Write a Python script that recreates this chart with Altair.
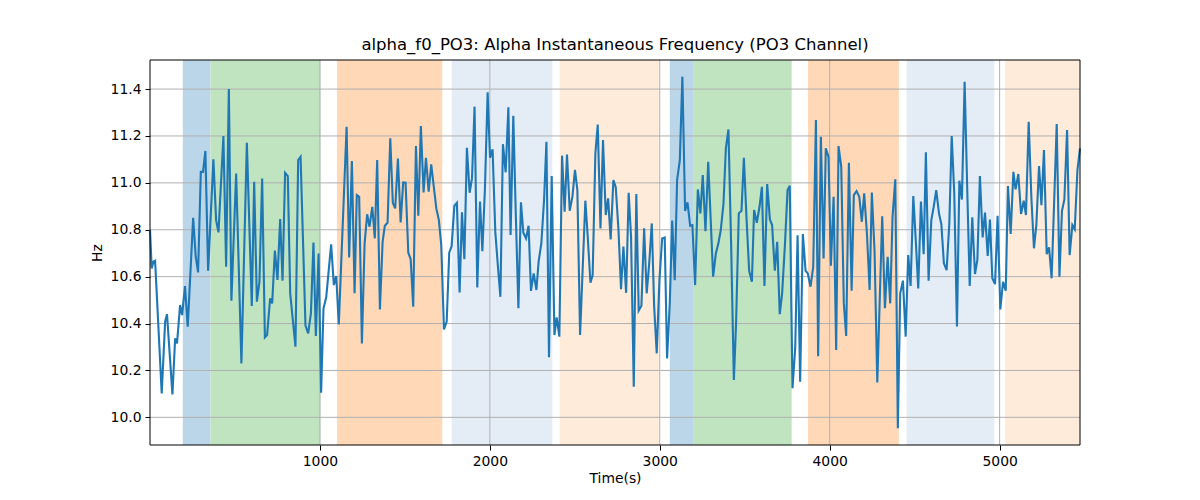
import altair as alt
import pandas as pd

times = [0, 10, 20, 30, 69, 89, 100, 132, 148, 159, 177, 189, 206, 222, 254, 269, 283, 299, 312, 326,
         342, 373, 389, 403, 432, 448, 464, 479, 507, 538, 570, 599, 613, 629, 644, 660, 676, 689, 707, 719,
         735, 750, 766, 780, 795, 811, 825, 856, 872, 886, 915, 931, 947, 962, 976, 992, 1007, 1021, 1037, 1066,
         1082, 1096, 1111, 1157, 1172, 1188, 1204, 1217, 1231, 1247, 1263, 1278, 1292, 1308, 1323, 1337, 1353, 1369, 1382, 1398,
         1414, 1429, 1443, 1459, 1475, 1490, 1504, 1520, 1534, 1549, 1565, 1579, 1594, 1610, 1624, 1640, 1655, 1669, 1685, 1700,
         1714, 1730, 1746, 1761, 1775, 1791, 1806, 1822, 1836, 1850, 1865, 1881, 1895, 1910, 1926, 1942, 1956, 1971, 1987, 2001,
         2016, 2032, 2046, 2062, 2077, 2093, 2109, 2122, 2138, 2152, 2168, 2183, 2197, 2213, 2228, 2242, 2258, 2274, 2287, 2303,
         2319, 2333, 2348, 2364, 2380, 2393, 2409, 2425, 2440, 2454, 2470, 2486, 2501, 2515, 2531, 2562, 2576, 2592, 2605, 2621,
         2635, 2651, 2666, 2682, 2696, 2711, 2727, 2741, 2757, 2772, 2786, 2802, 2817, 2831, 2847, 2862, 2876, 2892, 2908, 2923,
         2937, 2953, 2967, 2982, 2998, 3014, 3029, 3043, 3059, 3073, 3088, 3102, 3118, 3133, 3149, 3163, 3179, 3192, 3208, 3224,
         3239, 3253, 3269, 3285, 3314, 3330, 3345, 3359, 3375, 3389, 3404, 3420, 3436, 3449, 3465, 3481, 3495, 3510, 3526, 3542,
         3555, 3571, 3587, 3601, 3616, 3632, 3648, 3661, 3677, 3691, 3706, 3720, 3736, 3752, 3765, 3781, 3797, 3811, 3826, 3842,
         3858, 3871, 3887, 3903, 3919, 3932, 3948, 3964, 3977, 3993, 4007, 4023, 4038, 4052, 4068, 4083, 4097, 4113, 4129, 4142,
         4158, 4174, 4189, 4203, 4219, 4235, 4248, 4264, 4280, 4295, 4309, 4325, 4341, 4356, 4370, 4386, 4401, 4415, 4431, 4447,
         4462, 4476, 4492, 4507, 4521, 4537, 4553, 4566, 4582, 4598, 4612, 4627, 4643, 4657, 4672, 4688, 4704, 4718, 4733, 4749,
         4763, 4778, 4794, 4810, 4824, 4839, 4855, 4869, 4884, 4900, 4914, 4930, 4943, 4957, 4973, 4988, 5004, 5020, 5036, 5049,
         5065, 5081, 5094, 5110, 5126, 5142, 5155, 5171, 5187, 5202, 5216, 5232, 5246, 5261, 5277, 5291, 5306, 5336, 5352, 5367,
         5381, 5397, 5412, 5428, 5442, 5458, 5473]

values = [10.80, 10.635, 10.664, 10.668, 10.102, 10.408, 10.44, 10.098, 10.337, 10.315, 10.479, 10.436, 10.56, 10.387, 10.851, 10.685, 10.618, 11.047, 11.047, 11.136,
          10.625, 11.10, 10.841, 10.789, 11.20, 10.642, 11.40, 10.497, 11.04, 10.23, 11.171, 10.475, 11.005, 10.493, 10.578, 11.019, 10.341, 10.351, 10.507, 10.486,
          10.711, 10.586, 10.846, 10.583, 11.043, 11.029, 10.529, 10.301, 11.097, 11.111, 10.391, 10.358, 10.443, 10.746, 10.347, 10.699, 10.105, 10.465, 10.512, 10.738,
          10.564, 10.603, 10.396, 11.239, 10.682, 11.093, 10.529, 10.948, 10.941, 10.315, 10.742, 10.866, 10.813, 10.898, 10.763, 11.097, 10.46, 10.749, 10.817, 10.83,
          11.19, 10.915, 10.891, 11.104, 10.831, 11.002, 11.001, 10.702, 10.675, 10.472, 11.157, 10.86, 11.242, 10.959, 11.107, 10.962, 11.079, 10.99, 10.891, 10.841,
          10.735, 10.375, 10.408, 10.702, 10.73, 10.902, 10.915, 10.533, 10.874, 10.674, 11.15, 10.958, 11.019, 11.325, 10.554, 10.92, 10.709, 10.976, 11.386, 11.107,
          11.143, 10.792, 10.657, 10.514, 11.165, 11.045, 11.322, 10.778, 11.286, 10.884, 10.465, 10.917, 10.787, 10.763, 10.817, 10.539, 10.614, 10.543, 10.664, 10.742,
          10.927, 11.175, 10.256, 11.029, 10.351, 10.426, 10.344, 11.116, 10.877, 11.121, 10.881, 10.941, 11.055, 10.969, 10.351, 10.924, 10.77, 10.574, 10.607, 11.126,
          11.249, 10.806, 11.183, 10.863, 10.934, 10.759, 11.012, 10.981, 10.799, 10.546, 10.728, 10.531, 10.958, 10.77, 10.131, 10.952, 10.455, 10.476, 10.806, 10.529,
          10.649, 10.827, 10.472, 10.273, 10.585, 10.763, 10.767, 10.251, 10.49, 10.839, 10.585, 11.012, 11.097, 11.453, 10.88, 10.917, 10.817, 10.82, 10.564, 10.972,
          10.87, 11.033, 10.794, 11.09, 10.6, 10.699, 10.742, 10.799, 10.912, 11.147, 11.228, 10.735, 10.159, 10.401, 10.87, 10.881, 11.107, 10.856, 10.625, 10.578,
          10.884, 10.83, 10.898, 10.983, 10.56, 10.995, 10.844, 10.82, 10.625, 10.749, 10.44, 10.529, 10.728, 10.969, 10.988, 10.124, 10.294, 10.777, 10.152, 10.782,
          10.625, 10.614, 10.557, 10.642, 11.268, 10.261, 11.197, 10.678, 11.147, 11.111, 10.647, 10.941, 10.287, 11.157, 11.069, 10.486, 10.347, 11.086, 10.54, 10.948,
          10.965, 10.941, 10.834, 10.955, 10.784, 10.543, 10.959, 10.706, 10.149, 10.514, 10.858, 10.465, 10.685, 10.486, 10.858, 11.015, 9.953, 10.529, 10.583, 10.344,
          10.692, 10.56, 10.944, 10.749, 10.55, 10.92, 10.696, 11.13, 10.583, 10.841, 10.898, 10.969, 10.87, 10.824, 10.657, 10.628, 10.827, 11.2, 10.955, 10.387,
          11.009, 10.929, 11.431, 10.955, 10.56, 10.853, 10.611, 10.671, 11.029, 10.767, 10.873, 10.688, 10.844, 10.593, 10.568, 10.86, 10.46, 10.578, 10.54, 10.986,
          10.782, 11.047, 10.972, 11.038, 10.867, 10.924, 10.863, 11.261, 10.934, 10.721, 10.82, 11.072, 10.905, 11.14, 10.696, 10.725, 10.593, 11.251, 10.6, 10.881,
          10.929, 11.225, 10.692, 10.82, 10.802, 11.055, 11.147]

band_start = [193, 356, 1100, 1775, 2411, 3059, 3196, 3872, 4453, 5032]
band_end = [356, 1003, 1720, 2368, 2995, 3196, 3776, 4407, 4969, 5473]
band_kind = ["blue", "green", "orange", "lightblue", "lightorange",
             "blue", "green", "orange", "lightblue", "lightorange"]
kind_names = ["blue", "green", "orange", "lightblue", "lightorange"]
kind_colors = ["#bcd6e9", "#c0e3c0", "#ffd9b7", "#e4edf6", "#ffebd9"]

x_ticks = [1000, 2000, 3000, 4000, 5000]
y_ticks = [10.0, 10.2, 10.4, 10.6, 10.8, 11.0, 11.2, 11.4]

x_domain = [0, 5473]
y_domain = [9.882, 11.524]

line_df = pd.DataFrame({"t": times, "f": values})
band_df = pd.DataFrame({"t": band_start, "e": band_end, "kind": band_kind})
xg_df = pd.DataFrame({"t": x_ticks})
yg_df = pd.DataFrame({"f": y_ticks})
frame_df = pd.DataFrame({"t": [x_domain[0]], "e": [x_domain[1]],
                         "f": [y_domain[0]], "g": [y_domain[1]]})

xs = alt.Scale(domain=x_domain, nice=False, zero=False)
ys = alt.Scale(domain=y_domain, nice=False, zero=False)

x_axis = alt.Axis(values=x_ticks, format="d", grid=False, domain=False,
                  tickColor="black", tickSize=5, tickWidth=1,
                  labelPadding=4, titlePadding=4)
y_axis = alt.Axis(values=y_ticks, format=".1f", grid=False, domain=False,
                  tickColor="black", tickSize=5, tickWidth=1,
                  labelPadding=4, titlePadding=6)

X = lambda f: alt.X(f, scale=xs, title="Time(s)", axis=x_axis)
Y = lambda f: alt.Y(f, scale=ys, title="Hz", axis=y_axis)

bands = alt.Chart(band_df).mark_rect().encode(
    x=X("t:Q"),
    x2="e:Q",
    color=alt.Color("kind:N", scale=alt.Scale(domain=kind_names, range=kind_colors), legend=None),
)

vgrid = alt.Chart(xg_df).mark_rule(color="#b0b0b0", strokeWidth=1).encode(x=X("t:Q"))
hgrid = alt.Chart(yg_df).mark_rule(color="#b0b0b0", strokeWidth=1).encode(y=Y("f:Q"))

line = alt.Chart(line_df).mark_line(color="#1f77b4", strokeWidth=2.1).encode(
    x=X("t:Q"),
    y=Y("f:Q"),
)

frame = alt.Chart(frame_df).mark_rect(fill=None, stroke="black", strokeWidth=1).encode(
    x=X("t:Q"), x2="e:Q", y=Y("f:Q"), y2="g:Q"
)

chart = alt.layer(bands, vgrid, hgrid, line, frame).properties(
    width=930, height=385,
    title=alt.TitleParams("alpha_f0_PO3: Alpha Instantaneous Frequency (PO3 Channel)",
                          fontSize=16.5, font="DejaVu Sans", fontWeight="normal",
                          color="black", anchor="middle", offset=6),
    autosize=alt.AutoSizeParams(type="none"),
    padding={"left": 142, "top": 52, "right": 112, "bottom": 47},
).configure_view(
    stroke=None
).configure_axis(
    labelFont="DejaVu Sans", labelFontSize=13.9, labelColor="black",
    titleFont="DejaVu Sans", titleFontSize=13.9, titleFontWeight="normal", titleColor="black",
)

chart.save("out.html", embed_options={"renderer": "svg", "actions": False})
